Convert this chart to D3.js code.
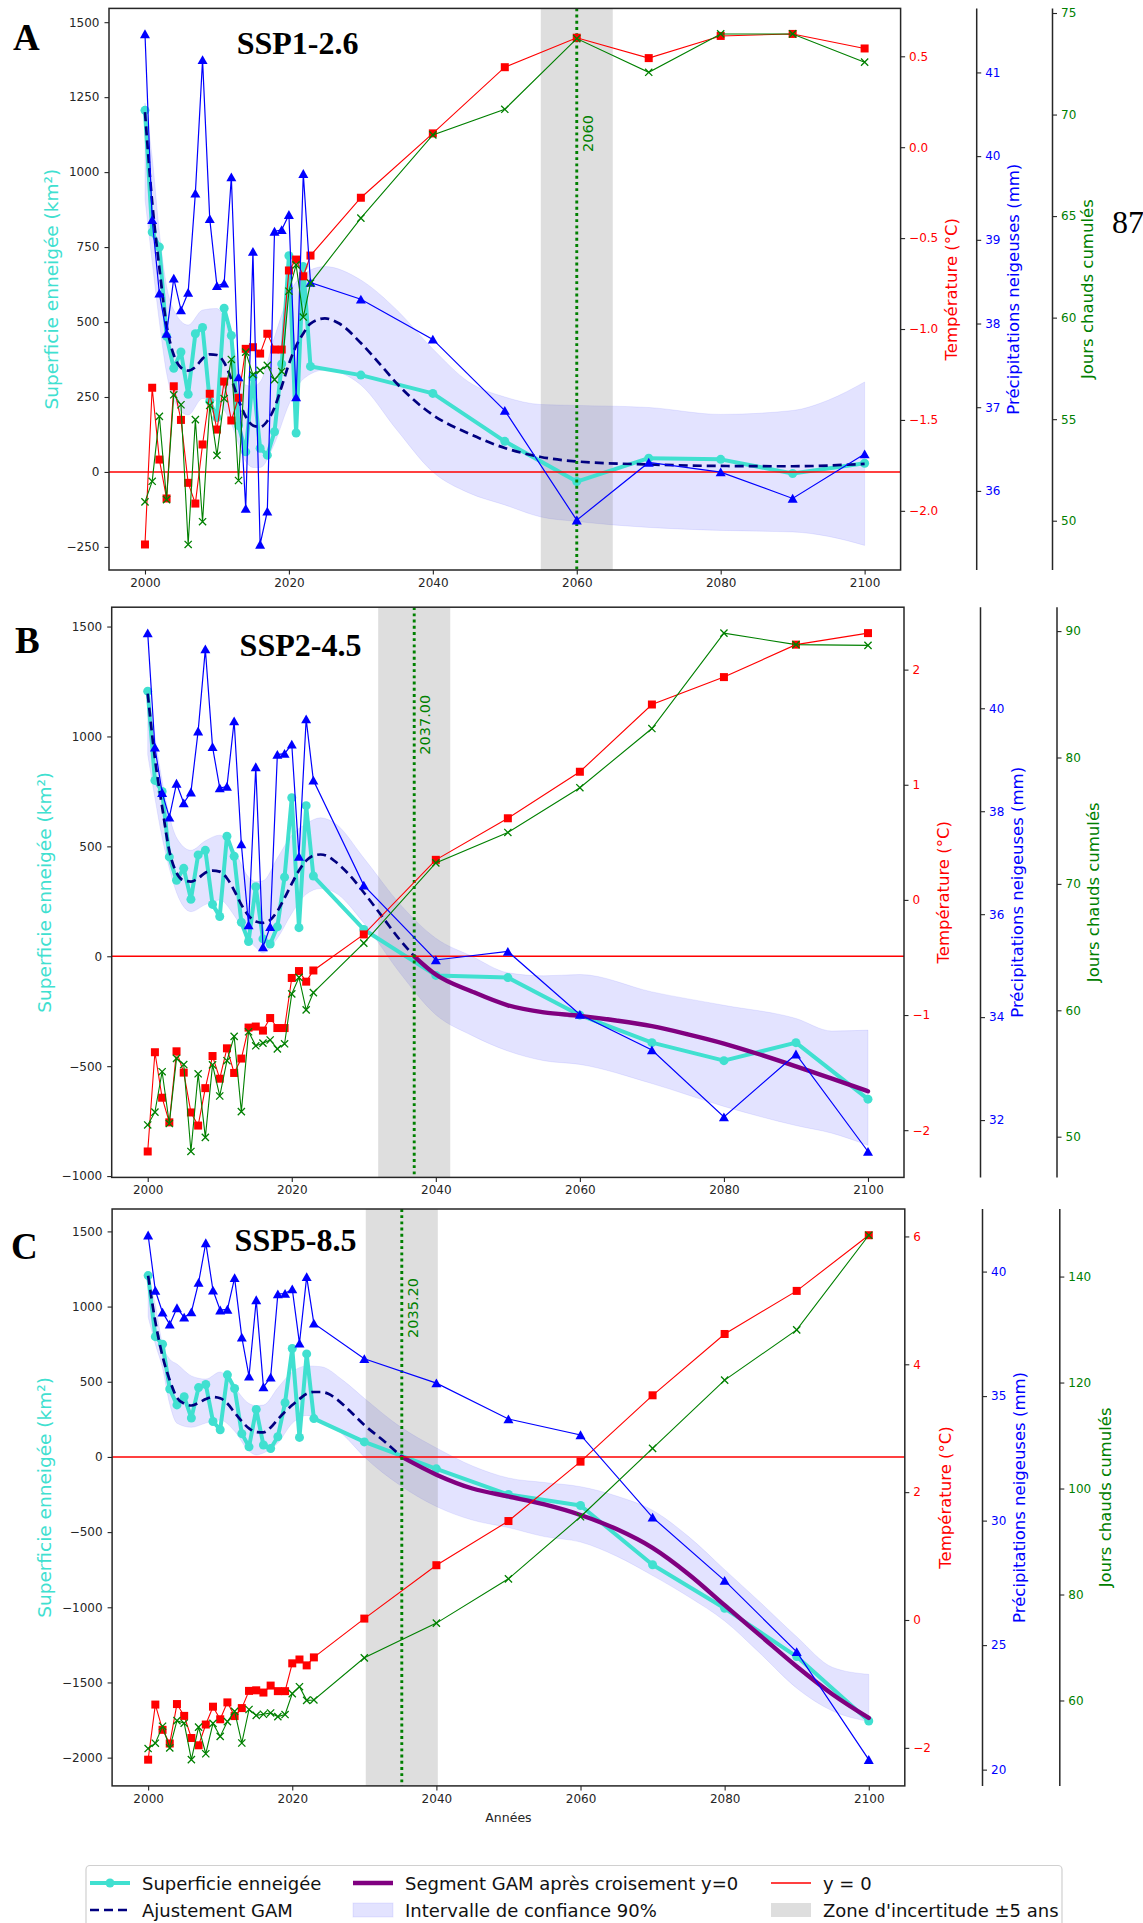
<!DOCTYPE html>
<html>
<head>
<meta charset="utf-8">
<script src="https://cdn.jsdelivr.net/npm/d3@7"></script>
<style>
  html, body { margin: 0; padding: 0; background: #fff; overflow: hidden; }
  svg { display: block; }
  text { font-family: "DejaVu Sans", sans-serif; }
</style>
</head>
<body>
<svg id="fig" width="1143" height="1923"></svg>
<script>
// ---------- Observations 2000–2022 (shared by the three scenarios) ----------
const obsYears = d3.range(2000, 2023);
const obsSnow = [1206, 800, 750, 452, 346, 400, 259, 461, 482, 236, 181, 546, 455, 155, 67, 316, 79, 56, 134, 360, 721, 130, 685];
const obsTemp = [-2.185, -1.323, -1.718, -1.932, -1.315, -1.50, -1.846, -1.96, -1.635, -1.356, -1.553, -1.289, -1.503, -1.378, -1.109, -1.10, -1.135, -1.026, -1.113, -1.113, -0.678, -0.618, -0.71];
const obsPrecip = [41.46, 39.24, 38.36, 37.88, 38.54, 38.16, 38.37, 39.555, 41.15, 39.25, 38.45, 38.48, 39.75, 37.36, 35.79, 38.86, 35.36, 35.755, 39.10, 39.12, 39.30, 37.12, 39.79];
const obsHotDays = [50.93, 51.94, 55.14, 51.04, 56.20, 55.71, 48.83, 54.975, 49.95, 55.68, 53.22, 56.01, 57.94, 51.98, 58.3, 57.19, 57.40, 57.65, 56.95, 57.35, 61.3, 62.6, 60.03];

// ---------- Projections ----------
const projYears = [2023, 2030, 2040, 2050, 2060, 2070, 2080, 2090, 2100];

const ssp126Snow = [352, 323, 262, 102, -32, 46, 42, -5, 29];
const ssp126Temp = [-0.596, -0.278, 0.076, 0.44, 0.602, 0.49, 0.612, 0.623, 0.543];
const ssp126Precip = [38.49, 38.29, 37.81, 36.96, 35.65, 36.34, 36.225, 35.91, 36.44];
const ssp126HotDays = [61.7, 64.9, 69.0, 70.26, 73.74, 72.08, 73.97, 73.97, 72.58];

const ssp245Snow = [365, 122, -87, -97, -268, -393, -475, -393, -650];
const ssp245Temp = [-0.613, -0.30, 0.348, 0.709, 1.113, 1.697, 1.935, 2.217, 2.317];
const ssp245Precip = [38.6, 36.56, 35.11, 35.275, 34.05, 33.36, 32.06, 33.28, 31.39];
const ssp245HotDays = [61.4, 65.31, 71.66, 74.07, 77.61, 82.29, 89.84, 88.93, 88.87];

const ssp585Snow = [255, 100, -79, -250, -323, -717, -1007, -1328, -1756];
const ssp585Temp = [-0.585, 0.022, 0.857, 1.548, 2.477, 3.515, 4.474, 5.148, 6.019];
const ssp585Precip = [37.92, 36.5, 35.52, 34.08, 33.44, 30.13, 27.59, 24.73, 20.40];
const ssp585HotDays = [60.1, 68.05, 74.6, 82.96, 94.67, 107.57, 120.46, 129.93, 147.8];

// ---------- GAM fits (knots) ----------
const gam126Years = [2000,2001,2002,2003,2004,2005,2006,2007,2008,2009,2010,2011,2012,2013,2014,2015,2016,2017,2018,2019,2020,2021,2022,2023,2025,2027,2030,2033,2035,2040,2045,2050,2055,2060,2070,2080,2090,2100];
const gam126 = [1200,900,680,490,390,348,338,350,378,392,390,365,310,240,185,155,150,170,215,285,360,420,462,495,512,495,430,350,295,190,128,80,50,35,25,20,19,27];

const gam245Years = [2000,2001,2002,2003,2004,2005,2006,2007,2008,2009,2010,2011,2012,2013,2014,2015,2016,2017,2018,2019,2020,2021,2022,2023,2024,2025,2026,2028,2030,2032,2035,2037,2040,2045,2050,2055,2060,2065,2070,2075,2080,2085,2090,2095,2100];
const gam245 = [1195,900,680,480,380,345,340,355,380,390,385,355,300,235,185,158,152,165,205,265,330,390,435,458,463,455,432,370,290,205,75,0,-83,-160,-223,-255,-271,-292,-318,-355,-397,-447,-501,-557,-614];

const gam585Years = [2000,2001,2002,2003,2004,2005,2006,2007,2008,2009,2010,2011,2012,2013,2014,2015,2016,2017,2018,2019,2020,2021,2022,2023,2024,2025,2026,2028,2030,2033,2035.2,2040,2045,2050,2055,2060,2065,2070,2075,2080,2085,2090,2095,2100];
const gam585 = [1205,900,670,510,395,355,342,360,385,398,390,355,295,237,190,166,163,195,250,300,345,385,420,432,432,420,390,305,212,95,0,-118,-210,-263,-316,-386,-480,-605,-780,-986,-1190,-1394,-1580,-1736];

// ---------- 90 % confidence intervals ----------
const ci126Years = [2000,2001,2002,2003,2004,2006,2008,2010,2012,2014,2015,2016,2018,2020,2022,2025,2030,2035,2040,2045,2050,2055,2060,2070,2080,2090,2095,2100];
const ci126Low = [910,700,500,330,240,190,245,235,160,35,15,15,95,225,310,340,290,140,0,-70,-110,-150,-165,-185,-195,-200,-215,-245];
const ci126High = [1230,1050,800,620,540,490,540,545,440,290,285,300,450,590,660,685,640,540,410,300,250,225,222,215,192,205,240,300];

const ci245Years = [2000,2001,2002,2003,2004,2006,2008,2010,2012,2014,2015,2016,2018,2020,2022,2024,2026,2030,2035,2040,2045,2050,2055,2060,2070,2080,2090,2095,2100];
const ci245Low = [917,720,540,400,290,203,235,256,186,75,40,15,82,195,282,308,290,151,-75,-266,-360,-431,-475,-492,-579,-683,-770,-805,-860];
const ci245High = [1220,1000,800,640,540,482,525,551,482,360,340,343,447,551,603,630,605,447,238,82,0,-75,-89,-83,-162,-223,-283,-340,-336];

const ci585Years = [2000,2001,2002,2003,2004,2006,2008,2010,2012,2014,2015,2016,2018,2020,2022,2024,2027,2030,2035,2040,2045,2050,2055,2060,2065,2070,2075,2080,2085,2090,2095,2100];
const ci585Low = [930,750,590,350,224,197,225,245,171,39,13,26,92,224,276,245,150,0,-190,-330,-420,-470,-530,-566,-660,-789,-930,-1091,-1310,-1538,-1690,-1760];
const ci585High = [1215,1010,750,650,618,539,518,565,460,355,342,345,460,565,605,600,511,390,200,60,-60,-140,-170,-198,-260,-355,-530,-750,-970,-1196,-1400,-1446];

// ---------- Zero-crossing years and tick labels ----------
const crossYears = [2060, 2037.0, 2035.2];
const crossLabels = ["2060", "2037.00", "2035.20"];
const scenarioNames = ["SSP1-2.6", "SSP2-4.5", "SSP5-8.5"];
const panelLetters = ["A", "B", "C"];
const xTicks = [2000, 2020, 2040, 2060, 2080, 2100];
const snowTicks = [d3.range(-250, 1501, 250), d3.range(-1000, 1501, 500), d3.range(-2000, 1501, 500)];
const tempTicks = [d3.range(-2, 0.51, 0.5), d3.range(-2, 2.1, 1), d3.range(-2, 6.1, 2)];
const precipTicks = [d3.range(36, 41.1, 1), d3.range(32, 40.1, 2), d3.range(20, 40.1, 5)];
const hotTicks = [d3.range(50, 75.1, 5), d3.range(50, 90.1, 10), d3.range(60, 140.1, 20)];
const snowLimits = [[-327, 1546], [-1006, 1588], [-2188, 1649]];

// ---------- Layout of the three panels ----------
const layout = [
  { left: 109, right: 900.6, top: 8.4, bottom: 570, precipX: 976.7, hotX: 1052.5,
    labelX: [951.5, 1013, 1087.6], ylabelX: 51, letter: [13, 50], titleX: 297.6, titleY: 53.6, tempFmt: ".1f" },
  { left: 111.7, right: 904, top: 607.2, bottom: 1177.4, precipX: 980.5, hotX: 1057,
    labelX: [943, 1017, 1093.5], ylabelX: 44, letter: [15, 653], titleX: 300.5, titleY: 655.8, tempFmt: "d" },
  { left: 112.1, right: 904.8, top: 1209, bottom: 1785.9, precipX: 982.5, hotX: 1059.8,
    labelX: [945, 1019, 1105], ylabelX: 44, letter: [11, 1259], titleX: 295.5, titleY: 1251.3, tempFmt: "d" }
];

const scenarios = [
  { snow: ssp126Snow, temp: ssp126Temp, precip: ssp126Precip, hot: ssp126HotDays,
    gamYears: gam126Years, gam: gam126, ciYears: ci126Years, ciLow: ci126Low, ciHigh: ci126High, crosses: false },
  { snow: ssp245Snow, temp: ssp245Temp, precip: ssp245Precip, hot: ssp245HotDays,
    gamYears: gam245Years, gam: gam245, ciYears: ci245Years, ciLow: ci245Low, ciHigh: ci245High, crosses: true },
  { snow: ssp585Snow, temp: ssp585Temp, precip: ssp585Precip, hot: ssp585HotDays,
    gamYears: gam585Years, gam: gam585, ciYears: ci585Years, ciLow: ci585Low, ciHigh: ci585High, crosses: true }
];

const COL = { snow: "#40E0D0", temp: "#ff0000", precip: "#0000ff", hot: "#008000", gam: "#000080", seg: "#800080", axis: "#262626" };
const svg = d3.select("#fig");

// matplotlib-style autoscale: data extent padded by 5 %
function padded(values) {
  const [lo, hi] = d3.extent(values);
  const m = (hi - lo) * 0.05;
  return [lo - m, hi + m];
}

function zip(xs, ys) { return xs.map((x, i) => [x, ys[i]]); }

function drawPanel(i) {
  const L = layout[i], S = scenarios[i];
  const g = svg.append("g");
  const x = d3.scaleLinear().domain([1995, 2105]).range([L.left, L.right]);
  const ySnow = d3.scaleLinear().domain(snowLimits[i]).range([L.bottom, L.top]);
  const allYears = obsYears.concat(projYears);
  const temp = obsTemp.concat(S.temp), precip = obsPrecip.concat(S.precip), hot = obsHotDays.concat(S.hot), snow = obsSnow.concat(S.snow);
  const yTemp = d3.scaleLinear().domain(padded(temp)).range([L.bottom, L.top]);
  const yPrecip = d3.scaleLinear().domain(padded(precip)).range([L.bottom, L.top]);
  const yHot = d3.scaleLinear().domain(padded(hot)).range([L.bottom, L.top]);

  const clipId = "clip" + i;
  g.append("clipPath").attr("id", clipId).append("rect")
    .attr("x", L.left).attr("y", L.top).attr("width", L.right - L.left).attr("height", L.bottom - L.top);
  const plot = g.append("g").attr("clip-path", `url(#${clipId})`);

  // confidence band
  const band = d3.area().curve(d3.curveMonotoneX)
    .x((d, k) => x(S.ciYears[k])).y0((d, k) => ySnow(S.ciLow[k])).y1((d, k) => ySnow(S.ciHigh[k]));
  plot.append("path").attr("d", band(S.ciYears))
    .attr("fill", "#0000ff").attr("fill-opacity", 0.11)
    .attr("stroke", "#0000ff").attr("stroke-opacity", 0.08).attr("stroke-width", 1);

  // uncertainty zone ±5 years
  const c = crossYears[i];
  plot.append("rect").attr("x", x(c - 5)).attr("y", L.top).attr("width", x(c + 5) - x(c - 5)).attr("height", L.bottom - L.top)
    .attr("fill", "#808080").attr("fill-opacity", 0.26);

  // snow-covered area
  const line = d3.line().x(d => x(d[0])).y(d => ySnow(d[1]));
  const snowPts = zip(allYears, snow);
  plot.append("path").attr("d", line(snowPts)).attr("fill", "none")
    .attr("stroke", COL.snow).attr("stroke-width", 4).attr("stroke-linejoin", "round");
  plot.selectAll(null).data(snowPts).join("circle")
    .attr("cx", d => x(d[0])).attr("cy", d => ySnow(d[1])).attr("r", 4.5).attr("fill", COL.snow);

  // GAM fit: dashed before the zero crossing, solid purple after
  const gamPts = zip(S.gamYears, S.gam);
  const smooth = d3.line().curve(d3.curveMonotoneX).x(d => x(d[0])).y(d => ySnow(d[1]));
  const before = S.crosses ? gamPts.filter(d => d[0] <= c) : gamPts;
  plot.append("path").attr("d", smooth(before)).attr("fill", "none")
    .attr("stroke", COL.gam).attr("stroke-width", 2.7).attr("stroke-dasharray", "9,5");
  if (S.crosses) {
    plot.append("path").attr("d", smooth(gamPts.filter(d => d[0] >= c))).attr("fill", "none")
      .attr("stroke", COL.seg).attr("stroke-width", 4.4).attr("stroke-linecap", "round");
  }

  // y = 0
  plot.append("line").attr("x1", L.left).attr("x2", L.right).attr("y1", ySnow(0)).attr("y2", ySnow(0))
    .attr("stroke", "#ff0000").attr("stroke-width", 1.6);

  // crossing year
  plot.append("line").attr("x1", x(c)).attr("x2", x(c)).attr("y1", L.top).attr("y2", L.bottom)
    .attr("stroke", COL.hot).attr("stroke-width", 2.9).attr("stroke-dasharray", "2.9,3.3");
  g.append("text").attr("transform", `translate(${x(c) + 11},${ySnow(1190)}) rotate(-90)`)
    .attr("text-anchor", "end").attr("dominant-baseline", "central")
    .attr("font-size", 14.5).attr("fill", COL.hot).text(crossLabels[i]);

  // temperature
  const tPts = zip(allYears, temp);
  const tLine = d3.line().x(d => x(d[0])).y(d => yTemp(d[1]));
  plot.append("path").attr("d", tLine(tPts)).attr("fill", "none").attr("stroke", COL.temp).attr("stroke-width", 1.1);
  plot.selectAll(null).data(tPts).join("rect")
    .attr("x", d => x(d[0]) - 4).attr("y", d => yTemp(d[1]) - 4).attr("width", 8).attr("height", 8).attr("fill", COL.temp);

  // snowfall
  const pPts = zip(allYears, precip);
  const pLine = d3.line().x(d => x(d[0])).y(d => yPrecip(d[1]));
  plot.append("path").attr("d", pLine(pPts)).attr("fill", "none").attr("stroke", COL.precip).attr("stroke-width", 1.2);
  plot.selectAll(null).data(pPts).join("path")
    .attr("transform", d => `translate(${x(d[0])},${yPrecip(d[1])})`)
    .attr("d", "M0,-4.6L5,4.2L-5,4.2Z").attr("fill", COL.precip);

  // cumulative hot days
  const hPts = zip(allYears, hot);
  const hLine = d3.line().x(d => x(d[0])).y(d => yHot(d[1]));
  plot.append("path").attr("d", hLine(hPts)).attr("fill", "none").attr("stroke", COL.hot).attr("stroke-width", 1.1);
  plot.selectAll(null).data(hPts).join("path")
    .attr("transform", d => `translate(${x(d[0])},${yHot(d[1])})`)
    .attr("d", "M-3.6,-3.6L3.6,3.6M-3.6,3.6L3.6,-3.6").attr("stroke", COL.hot).attr("stroke-width", 1.3).attr("fill", "none");

  // frame
  g.append("rect").attr("x", L.left).attr("y", L.top).attr("width", L.right - L.left).attr("height", L.bottom - L.top)
    .attr("fill", "none").attr("stroke", COL.axis).attr("stroke-width", 1.5);

  function styleAxis(sel, color) {
    sel.select(".domain").remove();
    sel.selectAll(".tick line").attr("stroke", COL.axis).attr("stroke-width", 1.1);
    sel.selectAll(".tick text").attr("fill", color).attr("font-size", 12).attr("font-family", "DejaVu Sans");
  }

  // x axis
  const xa = g.append("g").attr("transform", `translate(0,${L.bottom})`)
    .call(d3.axisBottom(x).tickValues(xTicks).tickFormat(d3.format("d")).tickSize(4.5).tickPadding(4));
  styleAxis(xa, COL.axis);

  // left axis
  const ya = g.append("g").attr("transform", `translate(${L.left},0)`)
    .call(d3.axisLeft(ySnow).tickValues(snowTicks[i]).tickFormat(d3.format("d")).tickSize(4.5).tickPadding(5));
  styleAxis(ya, COL.axis);
  g.append("text").attr("transform", `translate(${L.ylabelX},${(L.top + L.bottom) / 2}) rotate(-90)`)
    .attr("text-anchor", "middle").attr("dominant-baseline", "central")
    .attr("font-size", 18.5).attr("fill", COL.snow).text("Superficie enneigée (km²)");

  // right axes
  const ta = g.append("g").attr("transform", `translate(${L.right},0)`)
    .call(d3.axisRight(yTemp).tickValues(tempTicks[i]).tickFormat(d3.format(L.tempFmt)).tickSize(4.5).tickPadding(4));
  styleAxis(ta, COL.temp);

  const pa = g.append("g").attr("transform", `translate(${L.precipX},0)`)
    .call(d3.axisRight(yPrecip).tickValues(precipTicks[i]).tickFormat(d3.format("d")).tickSize(4.5).tickPadding(4));
  styleAxis(pa, COL.precip);
  g.append("line").attr("x1", L.precipX).attr("x2", L.precipX).attr("y1", L.top).attr("y2", L.bottom)
    .attr("stroke", COL.axis).attr("stroke-width", 1.5);

  const ha = g.append("g").attr("transform", `translate(${L.hotX},0)`)
    .call(d3.axisRight(yHot).tickValues(hotTicks[i]).tickFormat(d3.format("d")).tickSize(4.5).tickPadding(4));
  styleAxis(ha, COL.hot);
  g.append("line").attr("x1", L.hotX).attr("x2", L.hotX).attr("y1", L.top).attr("y2", L.bottom)
    .attr("stroke", COL.axis).attr("stroke-width", 1.5);

  const rightLabels = [["Température (°C)", COL.temp], ["Précipitations neigeuses (mm)", COL.precip], ["Jours chauds cumulés", COL.hot]];
  rightLabels.forEach(([txt, col], k) => {
    g.append("text").attr("transform", `translate(${L.labelX[k]},${(L.top + L.bottom) / 2}) rotate(-90)`)
      .attr("text-anchor", "middle").attr("dominant-baseline", "central")
      .attr("font-size", 16.5).attr("fill", col).text(txt);
  });

  // panel letter and scenario title
  g.append("text").attr("x", L.letter[0]).attr("y", L.letter[1])
    .style("font-family", "'Liberation Serif', serif").attr("font-weight", "bold").attr("font-size", 37).attr("fill", "#000")
    .text(panelLetters[i]);
  g.append("text").attr("x", L.titleX).attr("y", L.titleY).attr("text-anchor", "middle")
    .style("font-family", "'Liberation Serif', serif").attr("font-weight", "bold").attr("font-size", 32).attr("fill", "#000")
    .text(scenarioNames[i]);
}

[0, 1, 2].forEach(drawPanel);

// x-axis title under the last panel
svg.append("text").attr("x", (layout[2].left + layout[2].right) / 2).attr("y", 1822)
  .attr("text-anchor", "middle").attr("font-size", 12.5).attr("fill", COL.axis).text("Années");

// page number
svg.append("text").attr("x", 1112).attr("y", 233).style("font-family", "'Liberation Serif', serif")
  .attr("font-size", 32).attr("fill", "#000").text("87");

// ---------- Legend ----------
const leg = svg.append("g");
leg.append("rect").attr("x", 86).attr("y", 1865.5).attr("width", 976).attr("height", 80).attr("rx", 4)
  .attr("fill", "#fff").attr("fill-opacity", 0.8).attr("stroke", "#d0d0d0").attr("stroke-width", 1.2);
const legendItems = [
  { label: "Superficie enneigée", kind: "snow", col: 0, row: 0 },
  { label: "Ajustement GAM", kind: "gam", col: 0, row: 1 },
  { label: "Segment GAM après croisement y=0", kind: "seg", col: 1, row: 0 },
  { label: "Intervalle de confiance 90%", kind: "ci", col: 1, row: 1 },
  { label: "y = 0", kind: "zero", col: 2, row: 0 },
  { label: "Zone d'incertitude ±5 ans", kind: "zone", col: 2, row: 1 }
];
const legCols = [90, 353, 771];
const legRows = [1883, 1910];
legendItems.forEach(it => {
  const hx = legCols[it.col], cy = legRows[it.row], w = 40;
  if (it.kind === "snow") {
    leg.append("line").attr("x1", hx).attr("x2", hx + w).attr("y1", cy).attr("y2", cy).attr("stroke", COL.snow).attr("stroke-width", 4);
    leg.append("circle").attr("cx", hx + w / 2).attr("cy", cy).attr("r", 4.5).attr("fill", COL.snow);
  } else if (it.kind === "gam") {
    leg.append("line").attr("x1", hx).attr("x2", hx + w).attr("y1", cy).attr("y2", cy).attr("stroke", COL.gam)
      .attr("stroke-width", 2.7).attr("stroke-dasharray", "9,5");
  } else if (it.kind === "seg") {
    leg.append("line").attr("x1", hx).attr("x2", hx + w).attr("y1", cy).attr("y2", cy).attr("stroke", COL.seg).attr("stroke-width", 4.4);
  } else if (it.kind === "zero") {
    leg.append("line").attr("x1", hx).attr("x2", hx + w).attr("y1", cy).attr("y2", cy).attr("stroke", "#ff0000").attr("stroke-width", 1.6);
  } else if (it.kind === "ci") {
    leg.append("rect").attr("x", hx).attr("y", cy - 7).attr("width", w).attr("height", 14)
      .attr("fill", "#0000ff").attr("fill-opacity", 0.11).attr("stroke", "#0000ff").attr("stroke-opacity", 0.08);
  } else if (it.kind === "zone") {
    leg.append("rect").attr("x", hx).attr("y", cy - 7).attr("width", w).attr("height", 14)
      .attr("fill", "#808080").attr("fill-opacity", 0.26);
  }
  leg.append("text").attr("x", hx + w + 12).attr("y", cy).attr("dominant-baseline", "central")
    .attr("font-size", 18).attr("fill", "#111").text(it.label);
});
</script>
</body>
</html>
